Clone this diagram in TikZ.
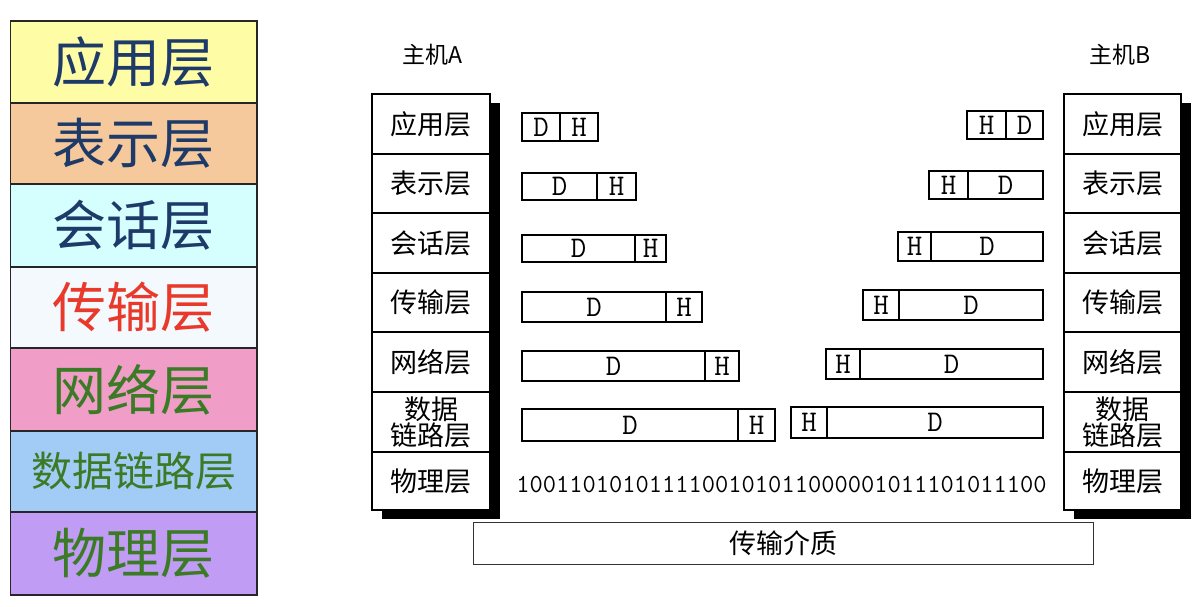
\documentclass[tikz,border=0pt]{standalone}
\usepackage{fontspec}
\usepackage{graphicx}
\newfontfamily\cjk{Noto Sans CJK SC}
\definecolor{cApp}{HTML}{FFFCA6}
\definecolor{cPre}{HTML}{F5C99B}
\definecolor{cSes}{HTML}{D5FFFF}
\definecolor{cTra}{HTML}{F4F9FE}
\definecolor{cNet}{HTML}{F09DC8}
\definecolor{cDat}{HTML}{A2CBF5}
\definecolor{cPhy}{HTML}{C09CF4}
\definecolor{tNavy}{HTML}{1E3A68}
\definecolor{tRed}{HTML}{E8392A}
\definecolor{tGreen}{HTML}{3B7B26}
\tikzset{
  osibox/.style={draw=black!85, line width=1.2pt, inner sep=0pt, outer sep=0pt, anchor=north west, minimum width=246.5pt, font=\cjk\fontsize{54}{60}\selectfont},
  hostrow/.style={draw=black, line width=1.3pt, fill=white, inner sep=0pt, outer sep=0pt, anchor=north west, minimum width=118pt, align=center, font=\cjk\fontsize{27}{30}\selectfont},
  pk/.style={draw=black, line width=1.3pt, fill=white, inner sep=0pt, outer sep=0pt, anchor=north west, font=\ttfamily\fontsize{30}{30}\selectfont},
  hostlabel/.style={font=\cjk\fontsize{23}{26}\selectfont},
}
\begin{document}
\begin{tikzpicture}[x=1pt,y=-1pt]
\useasboundingbox (0,0) rectangle (1192,606);
\fill[white] (0,0) rectangle (1192,606);
% left OSI panel
\node[osibox, fill=cApp, minimum height=82pt, text=tNavy] (L1) at (10.5,21) {应用层};
\node[osibox, fill=cPre, minimum height=81pt, text=tNavy] (L2) at (10.5,103) {表示层};
\node[osibox, fill=cSes, minimum height=83pt, text=tNavy] (L3) at (10.5,184) {会话层};
\node[osibox, fill=cTra, minimum height=81pt, text=tRed] (L4) at (10.5,267) {传输层};
\node[osibox, fill=cNet, minimum height=83pt, text=tGreen] (L5) at (10.5,348) {网络层};
\node[osibox, fill=cDat, minimum height=81pt, text=tGreen, font=\cjk\fontsize{41}{46}\selectfont] (L6) at (10.5,431) {数据链路层};
\node[osibox, fill=cPhy, minimum height=83pt, text=tGreen] (L7) at (10.5,512) {物理层};
% host labels
\node[hostlabel] (HA) at (432,55) {主机A};
\node[hostlabel] (HB) at (1120,55) {主机B};
% shadows
\fill[black] (382,103) rectangle (500,519);
\fill[black] (1074,103) rectangle (1191,519);
% host A stack
\node[hostrow, minimum height=60pt] (A1) at (372,94) {应用层};
\node[hostrow, minimum height=59pt] (A2) at (372,154) {表示层};
\node[hostrow, minimum height=60pt] (A3) at (372,213) {会话层};
\node[hostrow, minimum height=59pt] (A4) at (372,273) {传输层};
\node[hostrow, minimum height=60pt] (A5) at (372,332) {网络层};
\node[hostrow, minimum height=60pt, font=\cjk\fontsize{27}{26}\selectfont] (A6) at (372,392) {数据\\链路层};
\node[hostrow, minimum height=58pt] (A7) at (372,452) {物理层};
% host B stack
\node[hostrow, minimum height=60pt, minimum width=117pt] (B1) at (1064,94) {应用层};
\node[hostrow, minimum height=59pt, minimum width=117pt] (B2) at (1064,154) {表示层};
\node[hostrow, minimum height=60pt, minimum width=117pt] (B3) at (1064,213) {会话层};
\node[hostrow, minimum height=59pt, minimum width=117pt] (B4) at (1064,273) {传输层};
\node[hostrow, minimum height=60pt, minimum width=117pt] (B5) at (1064,332) {网络层};
\node[hostrow, minimum height=60pt, minimum width=117pt, font=\cjk\fontsize{27}{26}\selectfont] (B6) at (1064,392) {数据\\链路层};
\node[hostrow, minimum height=58pt, minimum width=117pt] (B7) at (1064,452) {物理层};
% packets host A: D | H
\foreach \i/\t/\b/\l/\m/\r in {1/113/141/522/560/598, 2/173/200/522/597/636, 3/235/262/522/635/666, 4/292/322/522/666/702, 5/351/381/522/705/739, 6/409/441/522/738/775}{
  \node[pk, minimum width=\m-\l, minimum height=\b-\t] (AD\i) at (\l,\t) {D};
  \node[pk, minimum width=\r-\m, minimum height=\b-\t] (AH\i) at (\m,\t) {H};
}
% packets host B: H | D
\foreach \i/\t/\b/\l/\m/\r in {1/111/139/967/1006/1043, 2/171/199/929/968/1043, 3/232/261/898/931/1043, 4/290/320/863/899/1043, 5/349/379/826/860/1043, 6/407/438/791/827/1043}{
  \node[pk, minimum width=\m-\l, minimum height=\b-\t] (BH\i) at (\l,\t) {H};
  \node[pk, minimum width=\r-\m, minimum height=\b-\t] (BD\i) at (\m,\t) {D};
}
% bit stream
\node[font=\ttfamily\fontsize{26}{26}\selectfont, inner sep=0pt] (bits) at (781.5,485) {\scalebox{0.99}[1]{1001101010111100101011000001011101011100}};
% medium
\node[draw=black!80, line width=1.3pt, inner sep=0pt, anchor=north west, minimum width=620pt, minimum height=42pt, font=\cjk\fontsize{27}{30}\selectfont] (M) at (473,522) {传输介质};
\end{tikzpicture}
\end{document}
